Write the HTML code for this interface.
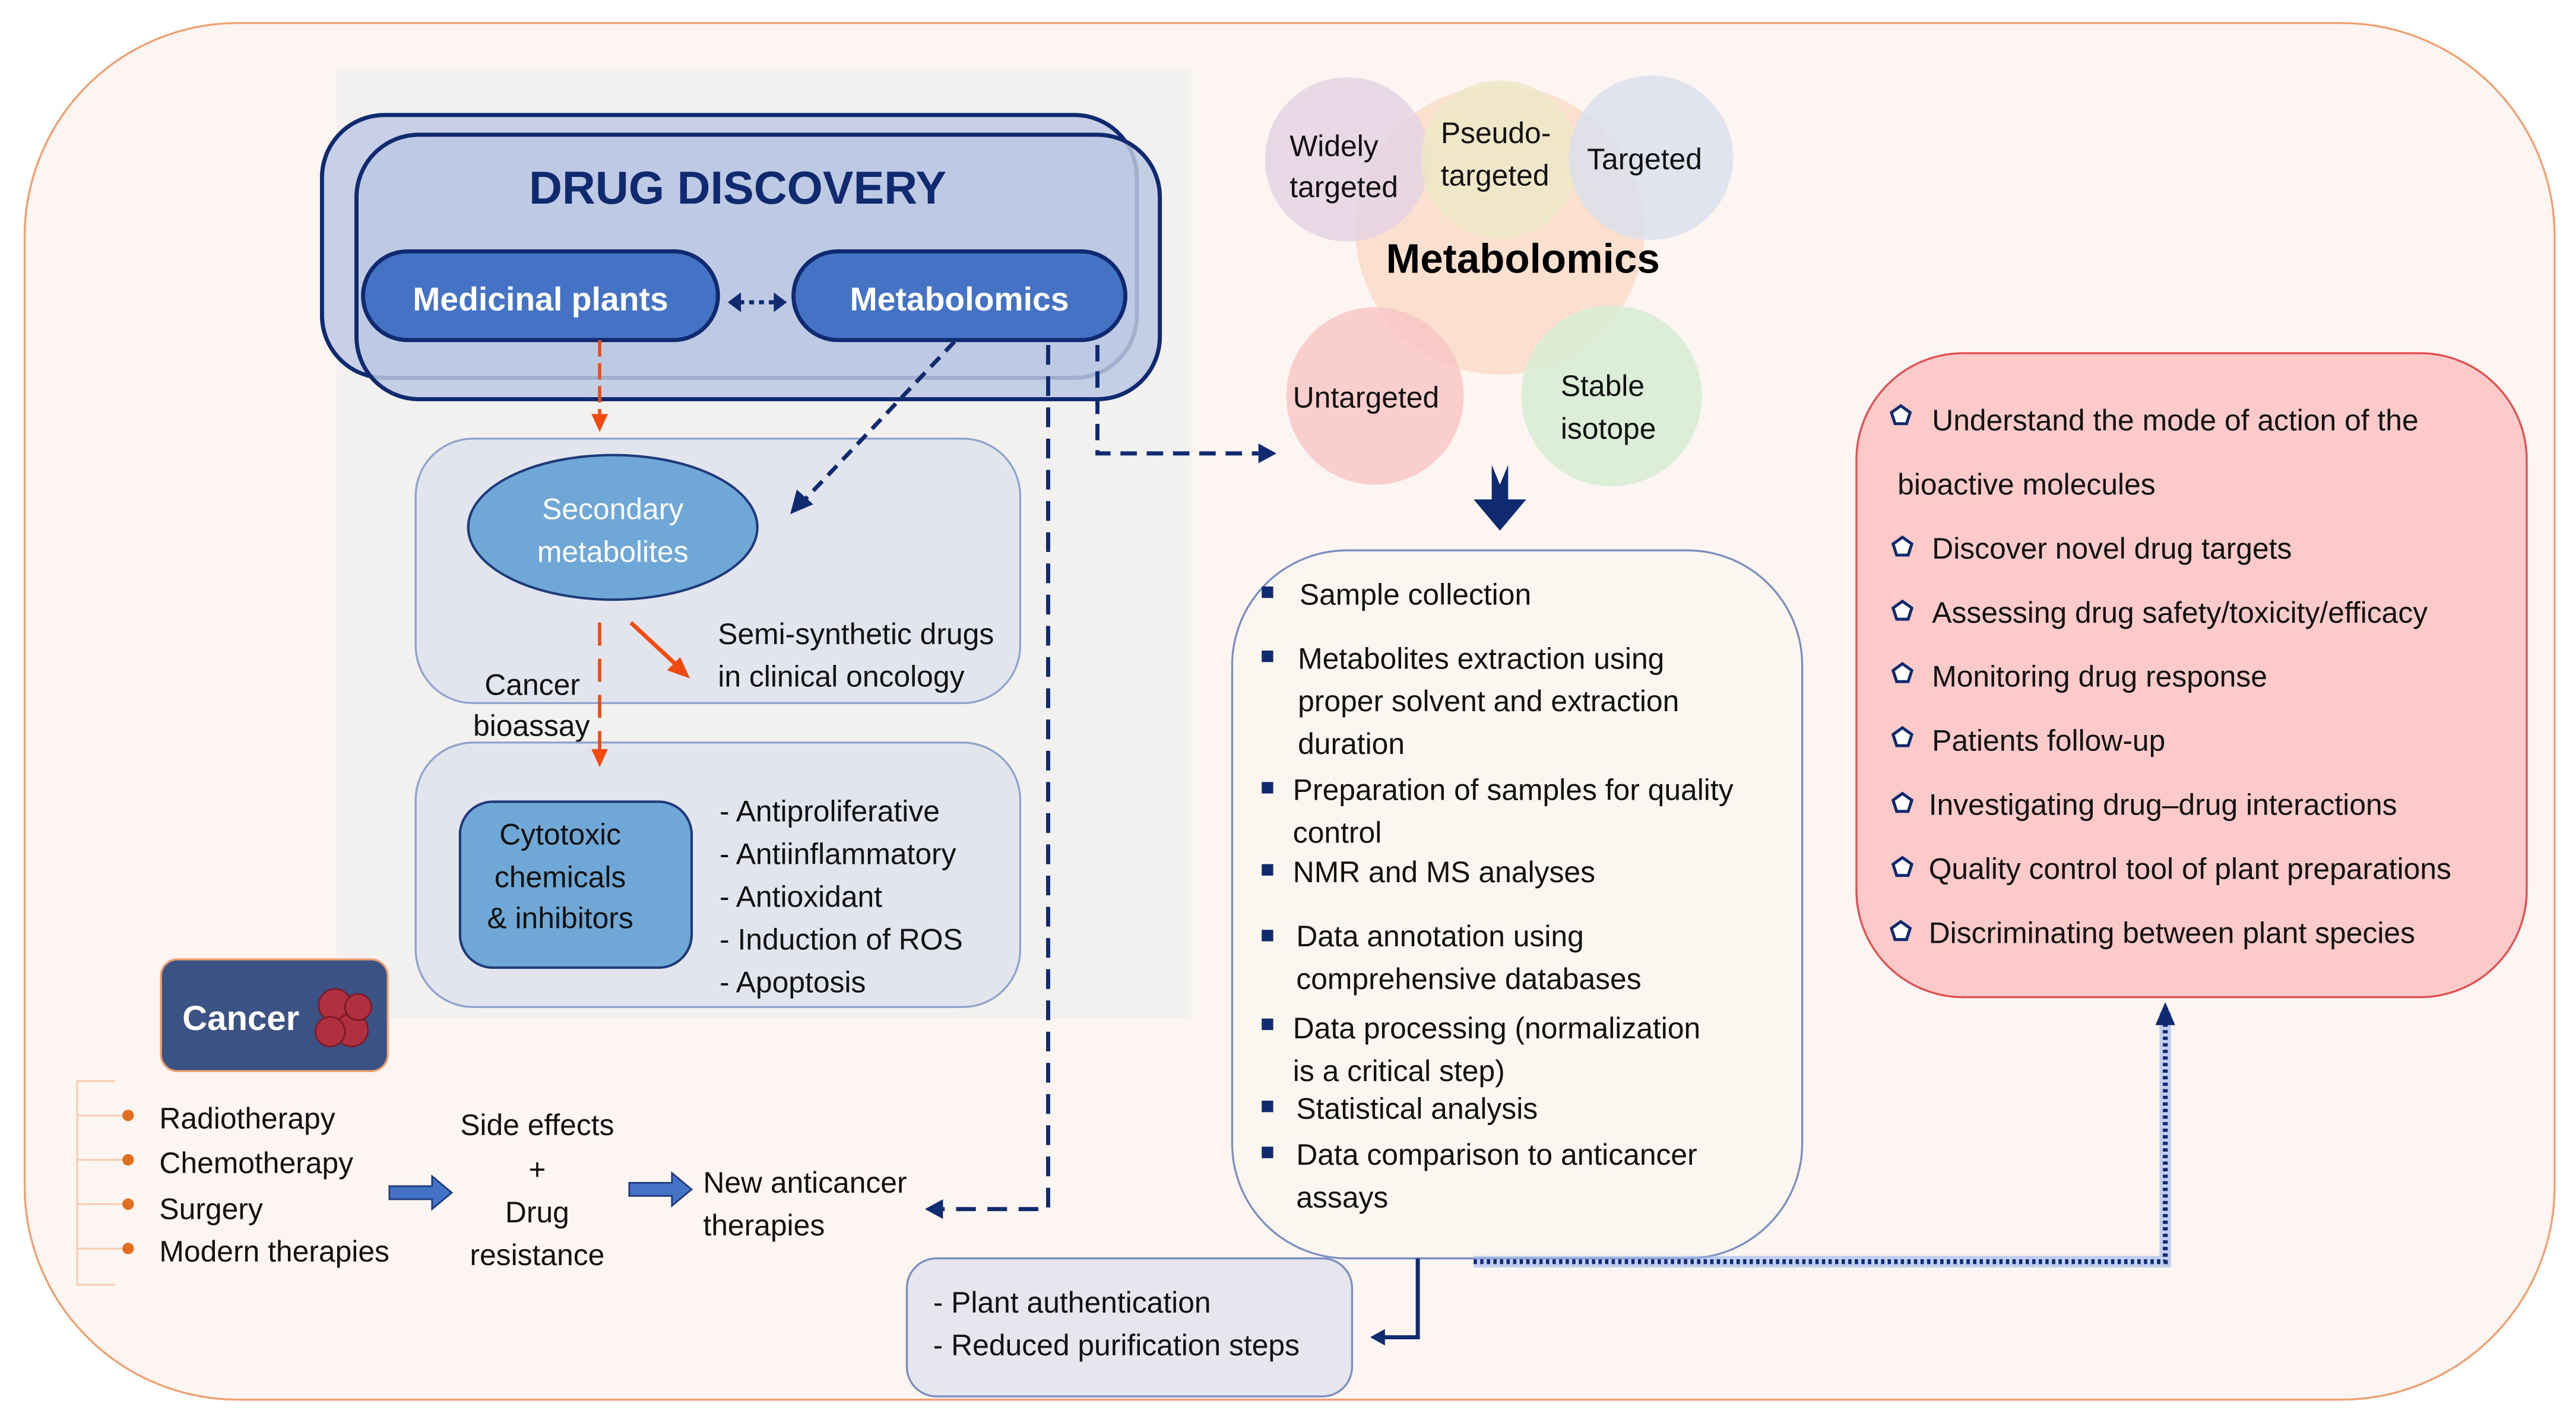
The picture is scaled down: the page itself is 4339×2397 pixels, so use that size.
<!DOCTYPE html>
<html><head><meta charset="utf-8"><style>html,body{margin:0;padding:0;background:#fff}svg{display:block}</style></head>
<body>
<svg width="4339" height="2397" viewBox="0 0 1568 866.2" xmlns="http://www.w3.org/2000/svg" font-family="'Liberation Sans', sans-serif">
<defs>
<g id="pent"><path d="M0,-6 L5.7,-1.9 L3.5,4.9 L-3.5,4.9 L-5.7,-1.9 Z" fill="#fff" stroke="#0f2a6e" stroke-width="1.8"/></g>
</defs>
<rect x="15" y="14" width="1540" height="838" rx="130" fill="#fdf5f1" stroke="#f0a070" stroke-width="1.2"/>
<rect x="205" y="42" width="520" height="578" fill="#f2f1ef"/>
<!-- drug discovery -->
<rect x="196" y="70" width="496" height="160" rx="38" fill="#c7d0e6" stroke="#0f2a6e" stroke-width="2.5"/>
<rect x="217" y="82" width="489" height="161" rx="38" fill="#bcc8e2" fill-opacity="0.85" stroke="#0f2a6e" stroke-width="2.5"/>
<text x="449" y="124" text-anchor="middle" font-size="28" font-weight="bold" fill="#0f2a6e">DRUG DISCOVERY</text>
<rect x="221" y="153" width="216" height="54" rx="27" fill="#4472c4" stroke="#0f2a6e" stroke-width="2.5"/>
<text x="329" y="189" text-anchor="middle" font-size="20" font-weight="bold" fill="#fff">Medicinal plants</text>
<rect x="483" y="153" width="202" height="54" rx="27" fill="#4472c4" stroke="#0f2a6e" stroke-width="2.5"/>
<text x="584" y="189" text-anchor="middle" font-size="20" font-weight="bold" fill="#fff">Metabolomics</text>
<!-- secondary -->
<rect x="253" y="267" width="368" height="161" rx="35" fill="#e2e5ee" stroke="#8fa3cc" stroke-width="1.2"/>
<ellipse cx="373" cy="321" rx="88" ry="44" fill="#6fa8d6" stroke="#1f3a7a" stroke-width="1.5"/>
<text x="373" y="316" text-anchor="middle" font-size="18" fill="#fff">Secondary</text>
<text x="373" y="342" text-anchor="middle" font-size="18" fill="#fff">metabolites</text>
<text x="437" y="392" font-size="18" fill="#111">Semi-synthetic drugs</text>
<text x="437" y="418" font-size="18" fill="#111">in clinical oncology</text>
<text x="295" y="423" font-size="18" fill="#111">Cancer</text>
<text x="288" y="448" font-size="18" fill="#111">bioassay</text>
<!-- cytotoxic -->
<rect x="253" y="452" width="368" height="161" rx="35" fill="#e2e5ee" stroke="#8fa3cc" stroke-width="1.2"/>
<rect x="280" y="488" width="141" height="101" rx="20" fill="#6fa8d6" stroke="#1f3a7a" stroke-width="1.5"/>
<g font-size="18" fill="#111" text-anchor="middle"><text x="341" y="514">Cytotoxic</text><text x="341" y="540">chemicals</text><text x="341" y="565">&amp; inhibitors</text></g>
<g font-size="18" fill="#111"><text x="438" y="500">- Antiproliferative</text><text x="438" y="526">- Antiinflammatory</text><text x="438" y="552">- Antioxidant</text><text x="438" y="578">- Induction of ROS</text><text x="438" y="604">- Apoptosis</text></g>
<!-- cancer -->
<rect x="98" y="584" width="138" height="68" rx="10" fill="#3a5384" stroke="#f0a070" stroke-width="1.2"/>
<text x="111" y="627" font-size="21" font-weight="bold" fill="#fff">Cancer</text>
<g fill="#b03040" stroke="#7a1a28" stroke-width="1"><circle cx="204" cy="612" r="10"/><circle cx="214" cy="627" r="10"/><circle cx="201" cy="628" r="9"/><circle cx="218" cy="613" r="8"/></g>
<g stroke="#f8c8a8" stroke-width="1" fill="none"><polyline points="70,658 47,658 47,782 70,782"/><line x1="47" y1="679" x2="76" y2="679"/><line x1="47" y1="706" x2="76" y2="706"/><line x1="47" y1="733" x2="76" y2="733"/><line x1="47" y1="760" x2="76" y2="760"/></g>
<g fill="#e07020"><circle cx="78" cy="679" r="3.5"/><circle cx="78" cy="706" r="3.5"/><circle cx="78" cy="733" r="3.5"/><circle cx="78" cy="760" r="3.5"/></g>
<g font-size="18" fill="#111"><text x="97" y="687">Radiotherapy</text><text x="97" y="714">Chemotherapy</text><text x="97" y="742">Surgery</text><text x="97" y="768">Modern therapies</text></g>
<path d="M237,722 H263 V716 L275,726 L263,736 V730 H237 Z" fill="#4472c4" stroke="#1f3a7a" stroke-width="1"/>
<g font-size="18" fill="#111" text-anchor="middle"><text x="327" y="691">Side effects</text><text x="327" y="718">+</text><text x="327" y="744">Drug</text><text x="327" y="770">resistance</text></g>
<path d="M383,720 H409 V714 L421,724 L409,734 V728 H383 Z" fill="#4472c4" stroke="#1f3a7a" stroke-width="1"/>
<text x="428" y="726" font-size="18" fill="#111">New anticancer</text>
<text x="428" y="752" font-size="18" fill="#111">therapies</text>
<!-- metabolomics circles -->
<circle cx="913" cy="140" r="88" fill="#f9d8c4" fill-opacity="0.75"/>
<circle cx="820" cy="97" r="50" fill="#e4d2e4" fill-opacity="0.8"/>
<circle cx="913" cy="97" r="48" fill="#ece8c6" fill-opacity="0.8"/>
<circle cx="1005" cy="96" r="50" fill="#d8e0ee" fill-opacity="0.8"/>
<circle cx="837" cy="241" r="54" fill="#f8c4c4" fill-opacity="0.8"/>
<circle cx="981" cy="241" r="55" fill="#d6ecd2" fill-opacity="0.85"/>
<g font-size="18" fill="#111"><text x="785" y="95">Widely</text><text x="785" y="120">targeted</text><text x="877" y="87">Pseudo-</text><text x="877" y="113">targeted</text><text x="966" y="103">Targeted</text><text x="787" y="248">Untargeted</text><text x="950" y="241">Stable</text><text x="950" y="267">isotope</text></g>
<text x="927" y="166" text-anchor="middle" font-size="25" font-weight="bold" fill="#000">Metabolomics</text>
<path d="M908,283 L913,295 L918,283 V304 H929 L913,323 L897,304 H908 Z" fill="#0f2a6e"/>
<!-- steps box -->
<rect x="750" y="335" width="347" height="431" rx="70" fill="#fbf6ef" stroke="#7a8fbf" stroke-width="1.2"/>
<g fill="#0f2a6e"><rect x="768" y="357" width="7" height="7"/><rect x="768" y="396" width="7" height="7"/><rect x="768" y="476" width="7" height="7"/><rect x="768" y="526" width="7" height="7"/><rect x="768" y="566" width="7" height="7"/><rect x="768" y="620" width="7" height="7"/><rect x="768" y="670" width="7" height="7"/><rect x="768" y="698" width="7" height="7"/></g>
<g font-size="18" fill="#111"><text x="791" y="368">Sample collection</text><text x="790" y="407">Metabolites extraction using</text><text x="790" y="433">proper solvent and extraction</text><text x="790" y="459">duration</text><text x="787" y="487">Preparation of samples for quality</text><text x="787" y="513">control</text><text x="787" y="537">NMR and MS analyses</text><text x="789" y="576">Data annotation using</text><text x="789" y="602">comprehensive databases</text><text x="787" y="632">Data processing (normalization</text><text x="787" y="658">is a critical step)</text><text x="789" y="681">Statistical analysis</text><text x="789" y="709">Data comparison to anticancer</text><text x="789" y="735">assays</text></g>
<!-- plant auth -->
<rect x="552" y="766" width="271" height="84" rx="18" fill="#e6e7ee" stroke="#7a8fbf" stroke-width="1.2"/>
<text x="568" y="799" font-size="18" fill="#111">- Plant authentication</text>
<text x="568" y="825" font-size="18" fill="#111">- Reduced purification steps</text>
<!-- red box -->
<rect x="1130" y="215" width="408" height="392" rx="65" fill="#fdcaca" stroke="#e05050" stroke-width="1.2"/>
<use href="#pent" x="1157" y="253"/><use href="#pent" x="1158" y="333"/><use href="#pent" x="1158" y="372"/><use href="#pent" x="1158" y="410"/><use href="#pent" x="1158" y="449"/><use href="#pent" x="1158" y="489"/><use href="#pent" x="1158" y="528"/><use href="#pent" x="1157" y="567"/>
<g font-size="18" fill="#111"><text x="1176" y="262">Understand the mode of action of the</text><text x="1155" y="301">bioactive molecules</text><text x="1176" y="340">Discover novel drug targets</text><text x="1176" y="379">Assessing drug  safety/toxicity/efficacy</text><text x="1176" y="418">Monitoring drug response</text><text x="1176" y="457">Patients follow-up</text><text x="1174" y="496">Investigating drug–drug interactions</text><text x="1174" y="535">Quality control tool of plant preparations</text><text x="1174" y="574">Discriminating between plant species</text></g>
<!-- connectors (on top) -->
<line x1="450" y1="184" x2="472" y2="184" stroke="#0f2a6e" stroke-width="2.5" stroke-dasharray="3,3"/>
<path d="M443,184 L451,178 L451,190 Z" fill="#0f2a6e"/><path d="M479,184 L471,178 L471,190 Z" fill="#0f2a6e"/>
<line x1="365" y1="207" x2="365" y2="252" stroke="#f04a10" stroke-width="2" stroke-dasharray="10,4"/>
<path d="M360,252 L370,252 L365,263 Z" fill="#f04a10"/>
<line x1="581" y1="208" x2="490" y2="304" stroke="#0f2a6e" stroke-width="2.5" stroke-dasharray="8,5"/>
<path d="M481,313 L485,298 L495,307 Z" fill="#0f2a6e"/>
<polyline points="638,210 638,736 574,736" fill="none" stroke="#0f2a6e" stroke-width="2.5" stroke-dasharray="12,7"/>
<path d="M563,736 L574,730 L574,742 Z" fill="#0f2a6e"/>
<polyline points="668,210 668,276 766,276" fill="none" stroke="#0f2a6e" stroke-width="2.5" stroke-dasharray="10,6"/>
<path d="M777,276 L766,270 L766,282 Z" fill="#0f2a6e"/>
<line x1="365" y1="379" x2="365" y2="456" stroke="#f04a10" stroke-width="2" stroke-dasharray="14,8"/>
<path d="M360,456 L370,456 L365,467 Z" fill="#f04a10"/>
<line x1="384" y1="379" x2="412" y2="405" stroke="#f04a10" stroke-width="2.5"/>
<path d="M420,413 L406,408 L414,400 Z" fill="#f04a10"/>
<polyline points="863,766 863,814 842,814" fill="none" stroke="#0f2a6e" stroke-width="2.5"/>
<path d="M834,814 L843,809 L843,819 Z" fill="#0f2a6e"/>
<polyline points="897,768 1318,768 1318,616" fill="none" stroke="#9ab4ee" stroke-width="7" opacity="0.6"/>
<polyline points="897,768 1318,768 1318,620" fill="none" stroke="#0f2a6e" stroke-width="3" stroke-dasharray="2,2"/>
<path d="M1312,624 L1318,610 L1324,624 Z" fill="#0f2a6e"/>
</svg>
</body></html>
